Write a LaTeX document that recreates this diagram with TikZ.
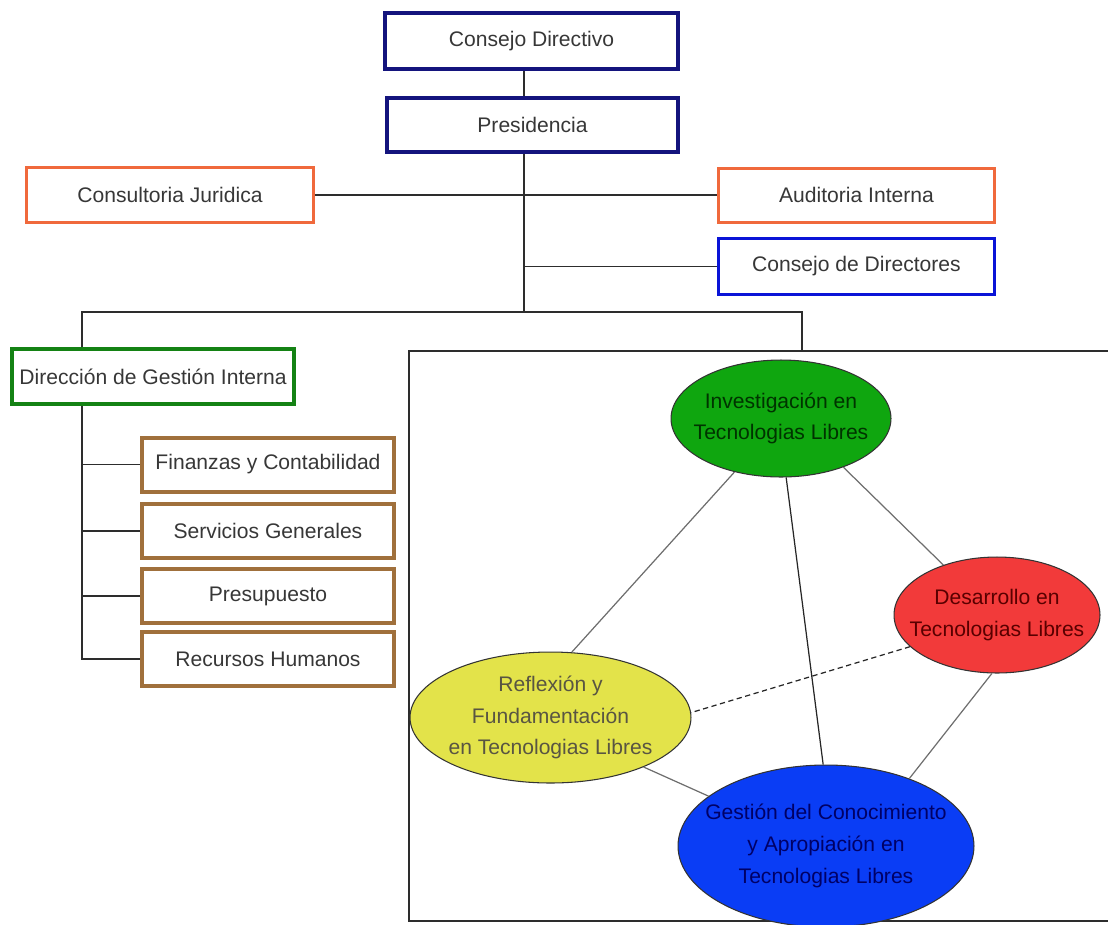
\documentclass[tikz,border=0pt]{standalone}
\usepackage{fontspec}
\setmainfont{Liberation Sans}
\usetikzlibrary{shapes.geometric}
\usetikzlibrary{calc}
\definecolor{navyline}{RGB}{20,20,125}
\definecolor{orangeline}{RGB}{240,105,60}
\definecolor{blueline}{RGB}{10,20,215}
\definecolor{greenline}{RGB}{20,130,20}
\definecolor{brownline}{RGB}{160,112,60}
\definecolor{boxtext}{RGB}{55,55,55}
\definecolor{orgline}{RGB}{45,45,45}
\definecolor{edgegray}{RGB}{110,110,110}
\definecolor{greenfill}{RGB}{15,166,15}
\definecolor{redfill}{RGB}{242,58,58}
\definecolor{yellowfill}{RGB}{227,227,74}
\definecolor{bluefill}{RGB}{10,61,245}

\begin{document}
\begin{tikzpicture}
  [x=0.02cm,y=-0.02cm,
  box/.style={rectangle,draw,inner sep=0pt,text=boxtext,font=\fontsize{12}{14}\selectfont},
  topbox/.style={box,draw=navyline,line width=0.08cm,minimum height=1.10cm},
  sidebox/.style={box,draw=orangeline,line width=0.06cm,minimum width=5.52cm,minimum height=1.08cm},
  unitbox/.style={box,draw=brownline,line width=0.08cm,minimum width=5.04cm,minimum height=1.08cm},
  area/.style={ellipse,draw=black!80,line width=0.6pt,inner xsep=-1cm,inner ysep=0pt,align=center,font=\fontsize{12}{18}\selectfont},
  orglink/.style={draw=orgline,line width=0.9pt},
  arealink/.style={draw=edgegray,line width=0.7pt}]
  \useasboundingbox (0,0) rectangle (1108,924);

  \node[rectangle,draw=orgline,line width=0.8pt,minimum width=14.06cm,minimum height=11.40cm] (marco) at (760.5,636) {};

  \node[topbox,minimum width=5.86cm,minimum height=1.12cm] (cdir) at (531.5,41) {Consejo Directivo};
  \node[topbox,minimum width=5.82cm,minimum height=1.08cm] (pres) at (532.5,125) {Presidencia};
  \node[sidebox,minimum width=5.74cm,minimum height=1.10cm] (cjur) at (170,195) {Consultoria Juridica};
  \node[sidebox] (audi) at (856.5,195) {Auditoria Interna};
  \node[sidebox,draw=blueline,minimum height=1.12cm] (cdirs) at (856.5,266.5) {Consejo de Directores};
  \node[box,draw=greenline,line width=0.08cm,minimum width=5.64cm,minimum height=1.10cm] (dgi) at (153,376.5) {Direcci\'on de Gesti\'on Interna};

  \node[unitbox] (fin) at (268,464.5) {Finanzas y Contabilidad};
  \node[unitbox] (serv) at (268,531) {Servicios Generales};
  \node[unitbox] (presu) at (268,596) {Presupuesto};
  \node[unitbox] (rrhh) at (268,659) {Recursos Humanos};

  \coordinate (trunk) at (524,312);
  \coordinate (busL) at (82,312);
  \coordinate (busR) at (802,312);

  \draw[orglink] (cdir.south -| trunk) -- (pres.north -| trunk);
  \draw[orglink] (pres.south -| trunk) -- (trunk);
  \draw[orglink] (cjur.east) -- (audi.west);
  \draw[orglink] (cdirs.west -| trunk) -- (cdirs.west);
  \draw[orglink] (dgi.north -| busL) -- (busL) -- (busR) -- (busR |- marco.north);
  \draw[orglink] (dgi.south -| busL) |- (rrhh.west);
  \draw[orglink] (fin.west -| busL) -- (fin.west);
  \draw[orglink] (serv.west -| busL) -- (serv.west);
  \draw[orglink] (presu.west -| busL) -- (presu.west);

  \node[area,fill=greenfill,text=green!20!black,minimum width=4.40cm,minimum height=2.34cm] (inv) at (781,418.5) {Investigaci\'on en\\Tecnologias Libres};
  \node[area,fill=redfill,text=red!35!black,minimum width=4.12cm,minimum height=2.32cm] (des) at (997,615) {Desarrollo en\\Tecnologias Libres};
  \node[area,fill=yellowfill,text=yellow!25!black,minimum width=5.62cm,minimum height=2.62cm] (refl) at (550.5,717.5) {Reflexi\'on y\\Fundamentaci\'on\\en Tecnologias Libres};
  \node[area,fill=bluefill,text=blue!40!black,minimum width=5.92cm,minimum height=3.24cm] (gest) at (826,846) {Gesti\'on del Conocimiento\\y Apropiaci\'on en\\Tecnologias Libres};

  \draw[arealink] (inv.229) -- (refl.72);
  \draw[arealink,draw=black!85] (inv.275) -- (gest.92);
  \draw[arealink] (inv.322) -- (des.137);
  \draw[arealink,draw=black!85,dash pattern=on 3pt off 2pt] (des.200) -- (refl.2);
  \draw[arealink] (des.265) -- (gest.39);
  \draw[arealink] (refl.332) -- (gest.157);
\end{tikzpicture}
\end{document}
